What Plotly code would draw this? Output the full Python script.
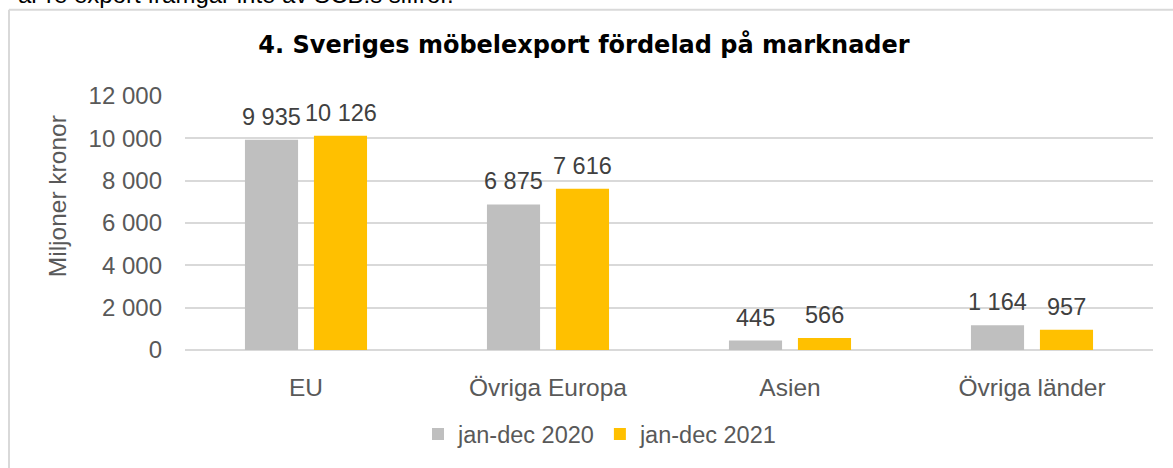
import plotly.graph_objects as go

categories = ["EU", "Övriga Europa", "Asien", "Övriga länder"]
series_names = ["jan-dec 2020", "jan-dec 2021"]
values_2020 = [9935, 6875, 445, 1164]
values_2021 = [10126, 7616, 566, 957]
colors = ["#bfbfbf", "#ffc000"]
tick_vals = [0, 2000, 4000, 6000, 8000, 10000, 12000]

W, H = 1173, 468
L, R, T, B = 185, 20, 96, 116
pw, ph = W - L - R, H - T - B

def px2x(px):
    return (px - L) / pw

def py2y(py):
    return (H - B - py) / ph

fig = go.Figure()
for name, vals, col in zip(series_names, [values_2020, values_2021], colors):
    fig.add_trace(go.Bar(x=categories, y=vals, name=name, marker_color=col,
                         marker_line_width=0))

annotations = []
for i, vals in enumerate([values_2020, values_2021]):
    shift = -34.5 if i == 0 else 34.5
    for c, v in zip(categories, vals):
        annotations.append(dict(x=c, y=v, xref="x", yref="y", xshift=shift, yshift=8,
                                text=f"{v:,}".replace(",", " "), showarrow=False,
                                yanchor="bottom", font=dict(size=23.5, color="#404040")))

annotations.append(dict(x=px2x(57), y=py2y(197), xref="paper", yref="paper",
                        text="Miljoner kronor", textangle=-90, showarrow=False,
                        xanchor="center", yanchor="middle",
                        font=dict(size=24.5, color="#595959")))
annotations.append(dict(x=px2x(16), y=py2y(9), xref="paper", yref="paper",
                        text="ar re export framgår inte av SCB:s siffror.", showarrow=False,
                        xanchor="left", yanchor="bottom",
                        font=dict(size=24, color="#000000")))

fig.update_layout(
    width=W, height=H,
    margin=dict(l=L, r=R, t=T, b=B),
    paper_bgcolor="white", plot_bgcolor="white",
    font=dict(family="Liberation Sans, Arial, sans-serif", color="#595959", size=24),
    separators=", ",
    barmode="group", bargap=0.43, bargroupgap=0.23,
    title=dict(text="<b>4. Sveriges möbelexport fördelad på marknader</b>",
               x=584 / W, xref="container", xanchor="center",
               y=1 - 45 / H, yref="container", yanchor="middle",
               font=dict(family="DejaVu Sans, sans-serif",
                         size=24, color="#000000")),
    showlegend=True,
    legend=dict(orientation="h", x=px2x(600), xanchor="center", y=py2y(437),
                yanchor="middle", font=dict(size=23.5, color="#595959"),
                itemwidth=30, traceorder="normal"),
    annotations=annotations,
    shapes=[
        dict(type="line", xref="paper", yref="paper", x0=px2x(9), x1=px2x(1180),
             y0=py2y(9), y1=py2y(9), line=dict(color="#d9d9d9", width=2)),
        dict(type="line", xref="paper", yref="paper", x0=px2x(9), x1=px2x(9),
             y0=py2y(9), y1=py2y(480), line=dict(color="#d9d9d9", width=2)),
    ],
)
fig.update_yaxes(range=[0, 12000], tickvals=tick_vals, tickformat=",d",
                 showgrid=True, gridcolor="#d9d9d9", gridwidth=1.5,
                 zeroline=True, zerolinecolor="#d9d9d9", zerolinewidth=1.5,
                 showline=False, ticklabelstandoff=22, tickfont=dict(size=24))
fig.update_xaxes(showline=False, ticklabelstandoff=20, tickfont=dict(size=24.5))

fig.write_html("out.html", config={"displayModeBar": False},
               post_script="document.body.style.margin='0';document.body.style.overflow='hidden';")
